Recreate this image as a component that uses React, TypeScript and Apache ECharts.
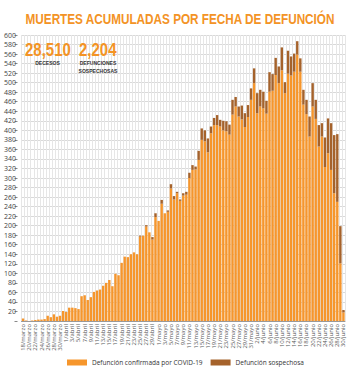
import React, { useEffect, useRef } from "react";
import * as echarts from "echarts";

const meses: [string, number, number][] = [
  ["marzo", 18, 31],
  ["abril", 1, 30],
  ["mayo", 1, 31],
  ["junio", 1, 30],
];
const fechas: string[] = [];
meses.forEach(([m, a, b]) => {
  for (let d = a; d <= b; d++) fechas.push(`${d}/${m}`);
});

// total deaths per day (confirmed + suspected)
const totalPorDia = [
  5, 1, 0, 1, 2, 3, 3, 4, 11, 8,
  14, 9, 11, 21, 19, 28, 28, 27, 25, 52,
  54, 44, 50, 61, 64, 66, 74, 80, 86, 73,
  99, 96, 122, 135, 134, 140, 144, 140, 179, 179,
  201, 186, 176, 226, 210, 254, 226, 232, 287, 262,
  271, 255, 268, 271, 311, 327, 324, 357, 404, 400,
  383, 408, 426, 432, 422, 420, 419, 412, 464, 470,
  450, 452, 436, 453, 488, 530, 478, 485, 481, 462,
  522, 518, 552, 534, 574, 501, 567, 555, 561, 587,
  551, 485, 464, 429, 499, 464, 411, 415, 385, 425,
  415, 390, 392, 199, 23,
];

const sospechosas = [
  0, 0, 0, 0, 0, 0, 0, 0, 0, 0,
  0, 0, 0, 0, 0, 0, 0, 0, 0, 0,
  0, 0, 0, 0, 0, 0, 0, 0, 0, 0,
  0, 0, 0, 0, 0, 0, 0, 0, 2, 0,
  3, 0, 5, 8, 0, 8, 0, 3, 9, 7,
  3, 3, 5, 6, 11, 10, 6, 19, 24, 23,
  29, 14, 15, 21, 14, 20, 21, 21, 31, 20,
  21, 29, 29, 25, 24, 31, 42, 35, 35, 27,
  41, 35, 36, 35, 48, 23, 48, 40, 38, 28,
  28, 31, 30, 42, 49, 40, 45, 28, 62, 73,
  98, 122, 142, 78, 5,
];

const confirmadas = totalPorDia.map((t, i) => t - sospechosas[i]);

const yTicks = { min: 0, max: 600, interval: 20 };

const ORANGE = "#F6962C";
const BROWN = "#A5622B";

const txt = (
  text: string,
  x: number,
  y: number,
  size: number,
  fill: string,
  align: string,
  sx: number
) => ({
  type: "text",
  x,
  y,
  z: 100,
  zlevel: 0,
  scaleX: sx,
  style: {
    text,
    fill,
    fontSize: size,
    fontWeight: "bold",
    fontFamily: "Liberation Sans",
    align,
    verticalAlign: "middle",
  },
});

export default function App() {
  const ref = useRef<HTMLDivElement>(null);
  useEffect(() => {
    if (!ref.current) return;
    const chart = echarts.init(ref.current, null, { renderer: "svg" });
    chart.setOption({
      animation: false,
      backgroundColor: "#ffffff",
      grid: { left: 21.5, right: 5, top: 35, bottom: 54 },
      legend: {
        left: 62,
        top: 354,
        itemWidth: 20,
        itemHeight: 6,
        itemGap: 8,
        icon: "rect",
        textStyle: { fontSize: 6.5, color: "#333", fontFamily: "Open Sans" },
        data: ["Defunción confirmada por COVID-19", "Defunción sospechosa"],
      },
      xAxis: {
        type: "category",
        data: fechas,
        axisLine: { show: true, lineStyle: { color: "#999", width: 1 } },
        axisTick: { show: false },
        splitLine: { show: true, interval: 0, lineStyle: { color: "#e6e6e6", width: 1 } },
        axisLabel: {
          rotate: 90,
          interval: 1,
          fontSize: 6,
          color: "#555",
          margin: 3,
          fontFamily: "Open Sans",
        },
      },
      yAxis: {
        type: "value",
        min: yTicks.min,
        max: yTicks.max,
        interval: yTicks.interval,
        offset: 4,
        axisLine: { show: false },
        axisTick: { show: true, length: 3, lineStyle: { color: "#888" } },
        splitLine: { show: true, lineStyle: { color: "#d9d9d9", width: 1 } },
        axisLabel: {
          fontSize: 7,
          color: "#444",
          margin: 1.5,
          fontFamily: "Open Sans",
          formatter: (v: number) => (v === 0 ? "" : String(v)),
        },
      },
      series: [
        {
          name: "Defunción confirmada por COVID-19",
          type: "bar",
          stack: "d",
          data: confirmadas,
          barCategoryGap: "22%",
          itemStyle: { color: ORANGE },
        },
        {
          name: "Defunción sospechosa",
          type: "bar",
          stack: "d",
          data: sospechosas,
          barCategoryGap: "22%",
          itemStyle: { color: BROWN },
        },
      ],
      graphic: {
        elements: [
          txt("MUERTES ACUMULADAS POR FECHA DE DEFUNCIÓN", 180, 19, 14.5, "#F39325", "center", 0.81),
          txt("28,510", 25, 50, 18.5, "#F39325", "left", 0.81),
          txt("2,204", 79, 50, 18.5, "#F39325", "left", 0.81),
          txt("DECESOS", 47.5, 63, 6, "#333", "center", 0.84),
          txt("DEFUNCIONES", 98, 63, 6, "#333", "center", 0.84),
          txt("SOSPECHOSAS", 98, 70.5, 6, "#333", "center", 0.84),
        ],
      },
    });
    return () => chart.dispose();
  }, []);
  return <div ref={ref} style={{ width: 350, height: 375, position: "absolute", left: 0, top: 0 }} />;
}
